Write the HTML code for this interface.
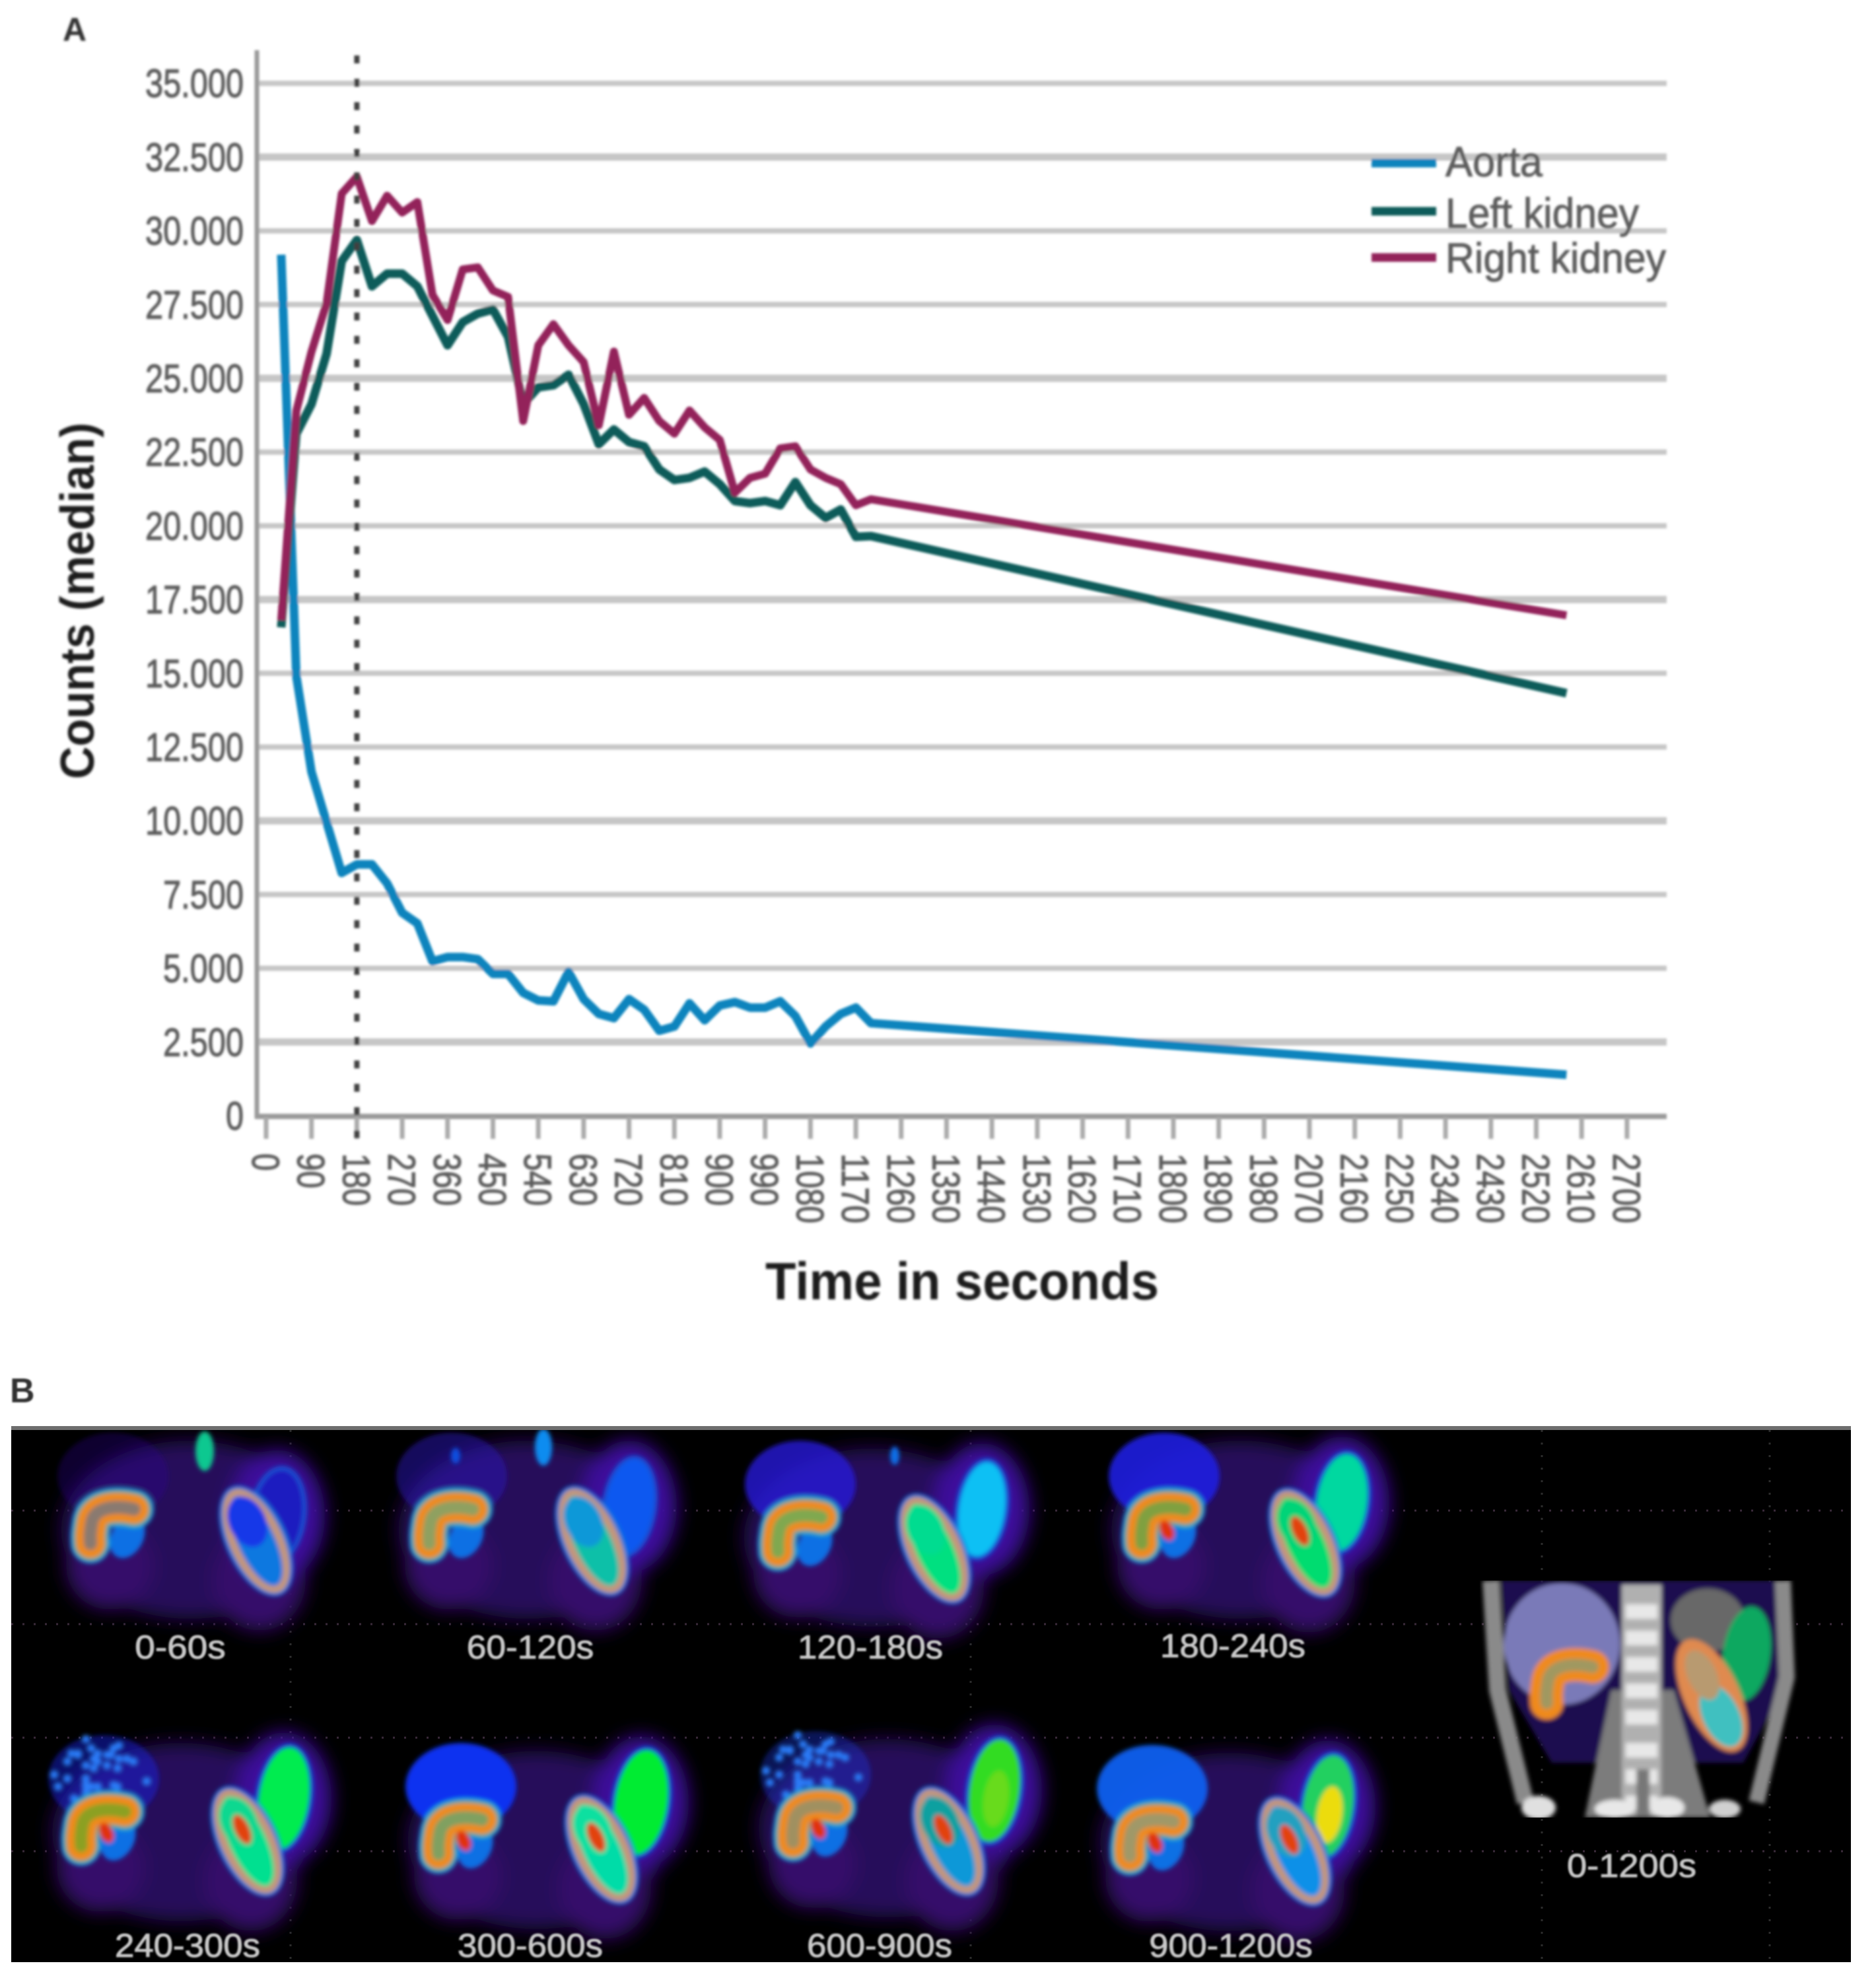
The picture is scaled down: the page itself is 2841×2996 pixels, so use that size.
<!DOCTYPE html>
<html lang="en">
<head>
<meta charset="utf-8">
<title>Renal time-activity curves and dynamic images</title>
<style>
html,body{margin:0;padding:0;background:#fff;}
svg{display:block;font-family:"Liberation Sans",sans-serif;}
</style>
</head>
<body>
<svg id="fig" xmlns="http://www.w3.org/2000/svg" width="2841" height="2996" viewBox="0 0 2841 2996">
  <defs>
    <filter id="soft" x="-2%" y="-2%" width="104%" height="104%"><feGaussianBlur stdDeviation="1.9"/></filter>
    <filter id="b3" x="-30%" y="-30%" width="160%" height="160%"><feGaussianBlur stdDeviation="3.5"/></filter>
    <filter id="b14" x="-30%" y="-30%" width="160%" height="160%"><feGaussianBlur stdDeviation="14"/></filter>
    <filter id="txt"><feGaussianBlur stdDeviation="1.2"/></filter>
    <clipPath id="ctclip"><rect x="2241" y="2394" width="501" height="359"/></clipPath>
    <clipPath id="blackclip"><rect x="17" y="2166" width="2786" height="806"/></clipPath>
  </defs>
  <rect width="2841" height="2996" fill="#ffffff"/>
  <g id="chart" filter="url(#soft)"></g>
  <g id="panelB"></g>
</svg>
<script>
// ---------- chart data ----------
const times = [30,60,90,120,150,180,210,240,270,300,330,360,390,420,450,480,510,540,570,600,630,660,690,720,750,780,810,840,870,900,930,960,990,1020,1050,1080,1110,1140,1170,1200,2580];
const aorta = [29190,14900,11660,9948,8235,8520,8520,7878,6879,6522,5237,5380,5380,5308,4809,4809,4167,3910,3881,4880,3952,3453,3310,3952,3596,2882,3025,3810,3239,3738,3852,3667,3667,3881,3382,2453,3025,3453,3667,3139,1390];
const leftKidney = [16557,23123,24122,25835,28975,29689,28118,28547,28547,28118,27120,26120,26905,27191,27334,26406,24122,24693,24764,25121,24122,22766,23266,22837,22695,21910,21553,21624,21838,21410,20839,20768,20839,20696,21481,20696,20268,20553,19626,19650,14324];
const rightKidney = [16800,23900,25900,27548,31259,31830,30331,31188,30617,30974,27833,26977,28690,28761,27976,27762,23551,26120,26834,26120,25549,23408,25906,23765,24336,23551,23123,23908,23337,22909,21124,21624,21767,22624,22695,21910,21624,21410,20696,20900,16965];
const yTicks = [0,2500,5000,7500,10000,12500,15000,17500,20000,22500,25000,27500,30000,32500,35000];
const yTickLabels = ["0","2.500","5.000","7.500","10.000","12.500","15.000","17.500","20.000","22.500","25.000","27.500","30.000","32.500","35.000"];
const xTicks = [0,90,180,270,360,450,540,630,720,810,900,990,1080,1170,1260,1350,1440,1530,1620,1710,1800,1890,1980,2070,2160,2250,2340,2430,2520,2610,2700];
const markerTime = [180];
const legendNames = ["Aorta","Left kidney","Right kidney"];

// ---------- axis functions ----------
function xOf(t){ return 403 + t * 0.7633; }
function yOf(v){ return 1690 - v * 0.04468; }

const NS = "http://www.w3.org/2000/svg";
function mk(tag, parent, props, txt){
  const e = document.createElementNS(NS, tag);
  for (const k in props) e.setAttribute(k, props[k]);
  if (txt !== undefined) e.textContent = txt;
  parent.appendChild(e);
  return e;
}
const chart = document.getElementById("chart");
const C = {axis:"#9a9a9a", grid:"#c6c6c6", text:"#5c5c5c", blue:"#0a84bd", green:"#0a5c5a", red:"#93205a"};

// gridlines & y tick labels
yTicks.forEach(function(v,i){
  if (v > 0) {
    const g = mk("line", chart, {x1:388,x2:2524,y1:yOf(v),y2:yOf(v),stroke:C.grid,"stroke-width":(i%3===1?11:8)});
    
    
  }
  const s = yTickLabels[i];
  const digits = s.replace(".","").length;
  const t = mk("text", chart, {x:369,y:yOf(v)+21,"text-anchor":"end","font-size":60,fill:C.text,stroke:C.text,"stroke-width":1.2,textLength:digits*27+(s.indexOf(".")>=0?14:0),lengthAdjust:"spacingAndGlyphs"}, s);
  
  
});

// axes
const yAxis = mk("line", chart, {x1:389,x2:389,y1:76,y2:1694,stroke:C.axis,"stroke-width":7});


const xAxis = mk("line", chart, {x1:386,x2:2524,y1:1691,y2:1691,stroke:C.axis,"stroke-width":8});



// x ticks
xTicks.forEach(function(t){
  const x = xOf(t);
  const tk = mk("line", chart, {x1:x,x2:x,y1:1692,y2:1725,stroke:"#aaaaaa","stroke-width":7});
  
  
  const s = String(t);
  const lb = mk("text", chart, {transform:"translate("+x+",1747) rotate(90)",x:0,y:21,"font-size":58,fill:C.text,stroke:C.text,"stroke-width":1.2,textLength:s.length*26.5,lengthAdjust:"spacingAndGlyphs"}, s);
  
  
});

// series
function linePath(vals){
  return vals.map(function(v,i){ return (i?"L":"M")+xOf(times[i]).toFixed(1)+" "+yOf(v).toFixed(1); }).join(" ");
}
const sA = mk("path", chart, {d:linePath(aorta),fill:"none",stroke:C.blue,"stroke-width":13,"stroke-linejoin":"round"});


const sL = mk("path", chart, {d:linePath(leftKidney),fill:"none",stroke:C.green,"stroke-width":13,"stroke-linejoin":"round"});


const sR = mk("path", chart, {d:linePath(rightKidney),fill:"none",stroke:C.red,"stroke-width":12,"stroke-linejoin":"round"});



// dotted marker
const mx = xOf(markerTime[0]);
const dl = mk("line", chart, {x1:mx,x2:mx,y1:84,y2:1724,stroke:"#3f3f3f","stroke-width":8,"stroke-dasharray":"12 23.4"});



// legend
const lgY = [247,320,390], lgB = [267,345,413], lgW = [147,293,334], lgC = [C.blue,C.green,C.red];
legendNames.forEach(function(n,i){
  const sw = mk("line", chart, {x1:2077,x2:2175,y1:lgY[i],y2:lgY[i],stroke:lgC[i],"stroke-width":13});
  
  
  const tx = mk("text", chart, {x:2189,y:lgB[i],"font-size":64,fill:C.text,stroke:C.text,"stroke-width":1,textLength:lgW[i],lengthAdjust:"spacingAndGlyphs"}, n);
  
  
});

// titles
const yT = mk("text", chart, {transform:"translate(142,910) rotate(-90)","text-anchor":"middle","font-size":72,"font-weight":"bold",fill:"#1a1a1a",textLength:540,lengthAdjust:"spacingAndGlyphs"}, "Counts (median)");


const xT = mk("text", chart, {x:1457,y:1968,"text-anchor":"middle","font-size":80,"font-weight":"bold",fill:"#1a1a1a",textLength:596,lengthAdjust:"spacingAndGlyphs"}, "Time in seconds");


const la = mk("text", chart, {x:95,y:62,"font-size":50,"font-weight":"bold",fill:"#333"}, "A");



// ---------- panel B: scintigraphy images ----------
const panelB = document.getElementById("panelB");
const lb = mk("text", panelB, {x:15,y:2124,"font-size":52,"font-weight":"bold",fill:"#333",filter:"url(#txt)"}, "B");


const bg = mk("rect", panelB, {x:17,y:2163,width:2786,height:809,fill:"#000"});


mk("rect", panelB, {x:17,y:2160,width:2786,height:6,fill:"#6e6e6e"});
const inner = mk("g", panelB, {"clip-path":"url(#blackclip)"});



// faint dotted overlay
[2288,2460,2632,2804].forEach(function(y){
  mk("line", inner, {x1:17,x2:2803,y1:y,y2:y,stroke:"#3a2a3a","stroke-width":3,"stroke-dasharray":"3 14"});
});
[440,1470,2335,2680].forEach(function(x){
  mk("line", inner, {x1:x,x2:x,y1:2166,y2:2972,stroke:"#2c2c2c","stroke-width":3,"stroke-dasharray":"3 16"});
});

const KD = "M32 -26 C5 -32 -28 -30 -32 -6 S -34 18 -34 26";
const panels = [
 {n:"0-60s",lx:273,ly:2512,kx:171,ky:2312,rx:388,ry:2334,sx:420,sy:2296,srx:38,sry:70,sc:"#1c1ac0",lc:"#2a0c9c",lo:.3,inner:"#1238e8",inner2:"#0a78e0",mid:"#8a7a70",red:0,yel:0,sp:0},
 {n:"60-120s",lx:803,ly:2512,kx:684,ky:2312,rx:897,ry:2334,sx:953,sy:2282,srx:36,sry:72,sc:"#0a58f0",lc:"#2c10b8",lo:.5,inner:"#0a98d8",inner2:"#08c0a8",mid:"#8fa060",red:0,yel:0,sp:0},
 {n:"120-180s",lx:1318,ly:2512,kx:1212,ky:2324,rx:1415,ry:2346,sx:1487,sy:2286,srx:35,sry:72,sc:"#0cc0f4",lc:"#2418d8",lo:.8,inner:"#00dc90",inner2:"#00e080",mid:"#80a850",red:0,yel:0,sp:0},
 {n:"180-240s",lx:1867,ly:2510,kx:1763,ky:2312,rx:1977,ry:2337,sx:2032,sy:2276,srx:38,sry:74,sc:"#00d8a0",lc:"#2020e0",lo:.9,inner:"#00d478",inner2:"#00dc70",mid:"#80a040",red:1,yel:0,sp:0},
 {n:"240-300s",lx:284,ly:2964,kx:157,ky:2770,rx:375,ry:2789,sx:430,sy:2724,srx:38,sry:78,sc:"#00ec50",lc:"#1a20e8",lo:.45,inner:"#10d890",inner2:"#00e090",mid:"#8ca020",red:1,yel:0,sp:1},
 {n:"300-600s",lx:803,ly:2964,kx:698,ky:2782,rx:911,ry:2801,sx:971,sy:2730,srx:40,sry:80,sc:"#00ec30",lc:"#1030f0",lo:1,inner:"#10e0a0",inner2:"#00dca8",mid:"#80a060",red:1,yel:0,sp:0},
 {n:"600-900s",lx:1332,ly:2964,kx:1235,ky:2764,rx:1437,ry:2789,sx:1506,sy:2712,srx:38,sry:78,sc:"#30dc20",lc:"#1040f0",lo:.35,inner:"#10a0a0",inner2:"#0898d8",mid:"#a09060",red:1,yel:.3,sp:1},
 {n:"900-1200s",lx:1864,ly:2964,kx:1745,ky:2785,rx:1961,ry:2804,sx:2011,sy:2736,srx:38,sry:78,sc:"#20d060",lc:"#1060f0",lo:.95,inner:"#20a0c0",inner2:"#0890e8",mid:"#a09868",red:1,yel:1,sp:0}
];
const streaks = [
 {x:310,y:2198,rx:14,ry:30,c:"#10c890"},
 {x:823,y:2192,rx:13,ry:28,c:"#0a8cf0"},
 {x:690,y:2205,rx:7,ry:12,c:"#0a50e0"},
 {x:1355,y:2205,rx:7,ry:14,c:"#0a70e8"}
];

function drawKidneyPair(g, p){
  const lk = mk("g", g, {transform:"translate("+p.kx+","+p.ky+")"});
  
  
  mk("ellipse", lk, {cx:22,cy:16,rx:24,ry:34,transform:"rotate(28 22 16)",fill:"#0a70e4"});
  mk("path", lk, {d:KD,fill:"none",stroke:"#0a9ad8","stroke-width":60,"stroke-linecap":"round"});
  mk("path", lk, {d:KD,fill:"none",stroke:"#5aa890","stroke-width":52,"stroke-linecap":"round"});
  mk("path", lk, {d:KD,fill:"none",stroke:"#ef8a1e","stroke-width":44,"stroke-linecap":"round"});
  mk("path", lk, {d:KD,fill:"none",stroke:p.mid,"stroke-width":20,"stroke-linecap":"round"});
  if (p.red) mk("ellipse", lk, {cx:4,cy:6,rx:10,ry:16,transform:"rotate(-25 4 6)",fill:"#e0300c"});

  const sp = mk("ellipse", g, {cx:p.sx,cy:p.sy,rx:p.srx+6,ry:p.sry+6,transform:"rotate(8 "+p.sx+" "+p.sy+")",fill:"#0a60e0",opacity:.8});
  
  
  const sp2 = mk("ellipse", g, {cx:p.sx,cy:p.sy,rx:p.srx,ry:p.sry,transform:"rotate(8 "+p.sx+" "+p.sy+")",fill:p.sc});
  
  
  if (p.yel) mk("ellipse", g, {cx:p.sx+4,cy:p.sy+12,rx:p.srx*.5,ry:p.sry*.55,transform:"rotate(8 "+p.sx+" "+p.sy+")",fill:"#ecdc10",opacity:p.yel});

  const rk = mk("g", g, {transform:"translate("+p.rx+","+p.ry+") rotate(-25)"});
  
  
  mk("ellipse", rk, {rx:46,ry:90,fill:"#0a78d8"});
  mk("ellipse", rk, {rx:40,ry:85,fill:"#c4967a"});
  mk("ellipse", rk, {rx:28,ry:74,fill:p.inner2});
  mk("ellipse", rk, {cy:-32,rx:28,ry:40,fill:p.inner});
  if (p.red) mk("ellipse", rk, {cy:-20,rx:11,ry:24,fill:"#e2420e"});
}

panels.forEach(function(p){
  const g = mk("g", inner, {});
  
  
  const bx = (p.kx + p.rx) / 2 + 8, by = p.ky + 5;
  const halo = mk("g", g, {filter:"url(#b14)"});
  mk("ellipse", halo, {cx:bx,cy:by,rx:195,ry:135,fill:"#26085a"});
  mk("ellipse", halo, {cx:p.kx-5,cy:p.ky+60,rx:66,ry:66,fill:"#36096a"});
  mk("ellipse", halo, {cx:p.rx+5,cy:p.ry+60,rx:70,ry:76,fill:"#36096a"});
  mk("ellipse", halo, {cx:p.sx,cy:p.sy,rx:72,ry:100,fill:"#3d0c9c"});
  const core = mk("g", g, {filter:"url(#b3)"});
  const liv = mk("ellipse", core, {cx:p.kx,cy:p.ky-76,rx:84,ry:66,fill:p.lc,opacity:p.lo});
  
  
  if (p.sp) {
    for (let i = 0; i < 40; i++) {
      const dx = ((i*i*37+i*11)%150)-75, dy = ((i*53+i*i*7)%100)-50;
      if ((dx*dx)/(78*78)+(dy*dy)/(56*56) > 1) continue;
      mk("circle", core, {cx:p.kx+dx,cy:p.ky-86+dy,r:6,fill:"#2a7cf8"});
    }
  }
  drawKidneyPair(core, p);
  const t = mk("text", g, {x:p.lx,y:p.ly,"text-anchor":"middle","font-size":50,fill:"#c8c8c8",stroke:"#c8c8c8","stroke-width":1,textLength:p.n.length*27.5,lengthAdjust:"spacingAndGlyphs",filter:"url(#txt)"}, p.n);
  
  
});

const stg = mk("g", inner, {filter:"url(#b3)"});


streaks.forEach(function(s){
  mk("ellipse", stg, {cx:s.x,cy:s.y,rx:s.rx,ry:s.ry,fill:s.c});
});

// CT fusion inset
const ct = mk("g", panelB, {"clip-path":"url(#ctclip)"});


const ctf = mk("g", ct, {filter:"url(#b3)"});
mk("path", ctf, {d:"M2273 2394 L2700 2394 L2700 2560 L2640 2670 L2350 2670 L2285 2560 Z",fill:"#1c0850"});
mk("path", ctf, {d:"M2258 2394 L2268 2560 L2310 2730",fill:"none",stroke:"#8a8a8a","stroke-width":26});
mk("path", ctf, {d:"M2700 2394 L2706 2540 L2660 2730",fill:"none",stroke:"#8a8a8a","stroke-width":24});
mk("path", ctf, {d:"M2400 2753 L2440 2560 L2535 2560 L2590 2753 Z",fill:"#7c7c7c"});
mk("rect", ctf, {x:2456,y:2400,width:60,height:350,fill:"#b0b0b0"});
[2430,2470,2510,2550,2590,2640,2680,2720].forEach(function(y){
  mk("rect", ctf, {x:2462,y:y,width:48,height:22,fill:"#e8e8e8"});
});
mk("rect", ctf, {x:2478,y:2680,width:20,height:73,fill:"#777"});
mk("ellipse", ctf, {cx:2330,cy:2738,rx:26,ry:18,fill:"#e0e0e0"});
mk("ellipse", ctf, {cx:2445,cy:2740,rx:30,ry:14,fill:"#e8e8e8"});
mk("ellipse", ctf, {cx:2525,cy:2738,rx:26,ry:16,fill:"#e8e8e8"});
mk("ellipse", ctf, {cx:2612,cy:2740,rx:24,ry:14,fill:"#d0d0d0"});
mk("ellipse", ctf, {cx:2365,cy:2490,rx:88,ry:92,fill:"#7a7ab8"});
mk("ellipse", ctf, {cx:2586,cy:2454,rx:56,ry:48,fill:"#686868"});
mk("ellipse", ctf, {cx:2645,cy:2505,rx:36,ry:72,transform:"rotate(8 2645 2505)",fill:"#10a860"});
const ctk = mk("g", ctf, {transform:"translate(2378,2552) scale(1.05)"});
mk("path", ctk, {d:KD,fill:"none",stroke:"#ef8a1e","stroke-width":48,"stroke-linecap":"round"});
mk("path", ctk, {d:KD,fill:"none",stroke:"#a09860","stroke-width":18,"stroke-linecap":"round"});
const ctr = mk("g", ctf, {transform:"translate(2592,2568) rotate(-25)"});
mk("ellipse", ctr, {rx:42,ry:92,fill:"#e08a50"});
mk("ellipse", ctr, {cy:34,rx:28,ry:50,fill:"#40c0c0"});
mk("ellipse", ctr, {cy:-34,rx:22,ry:40,fill:"#b89a70"});
const ctl = mk("text", panelB, {x:2471,y:2843,"text-anchor":"middle","font-size":50,fill:"#c8c8c8",stroke:"#c8c8c8","stroke-width":1,textLength:196,lengthAdjust:"spacingAndGlyphs",filter:"url(#txt)"}, "0-1200s");


</script>
</body>
</html>
